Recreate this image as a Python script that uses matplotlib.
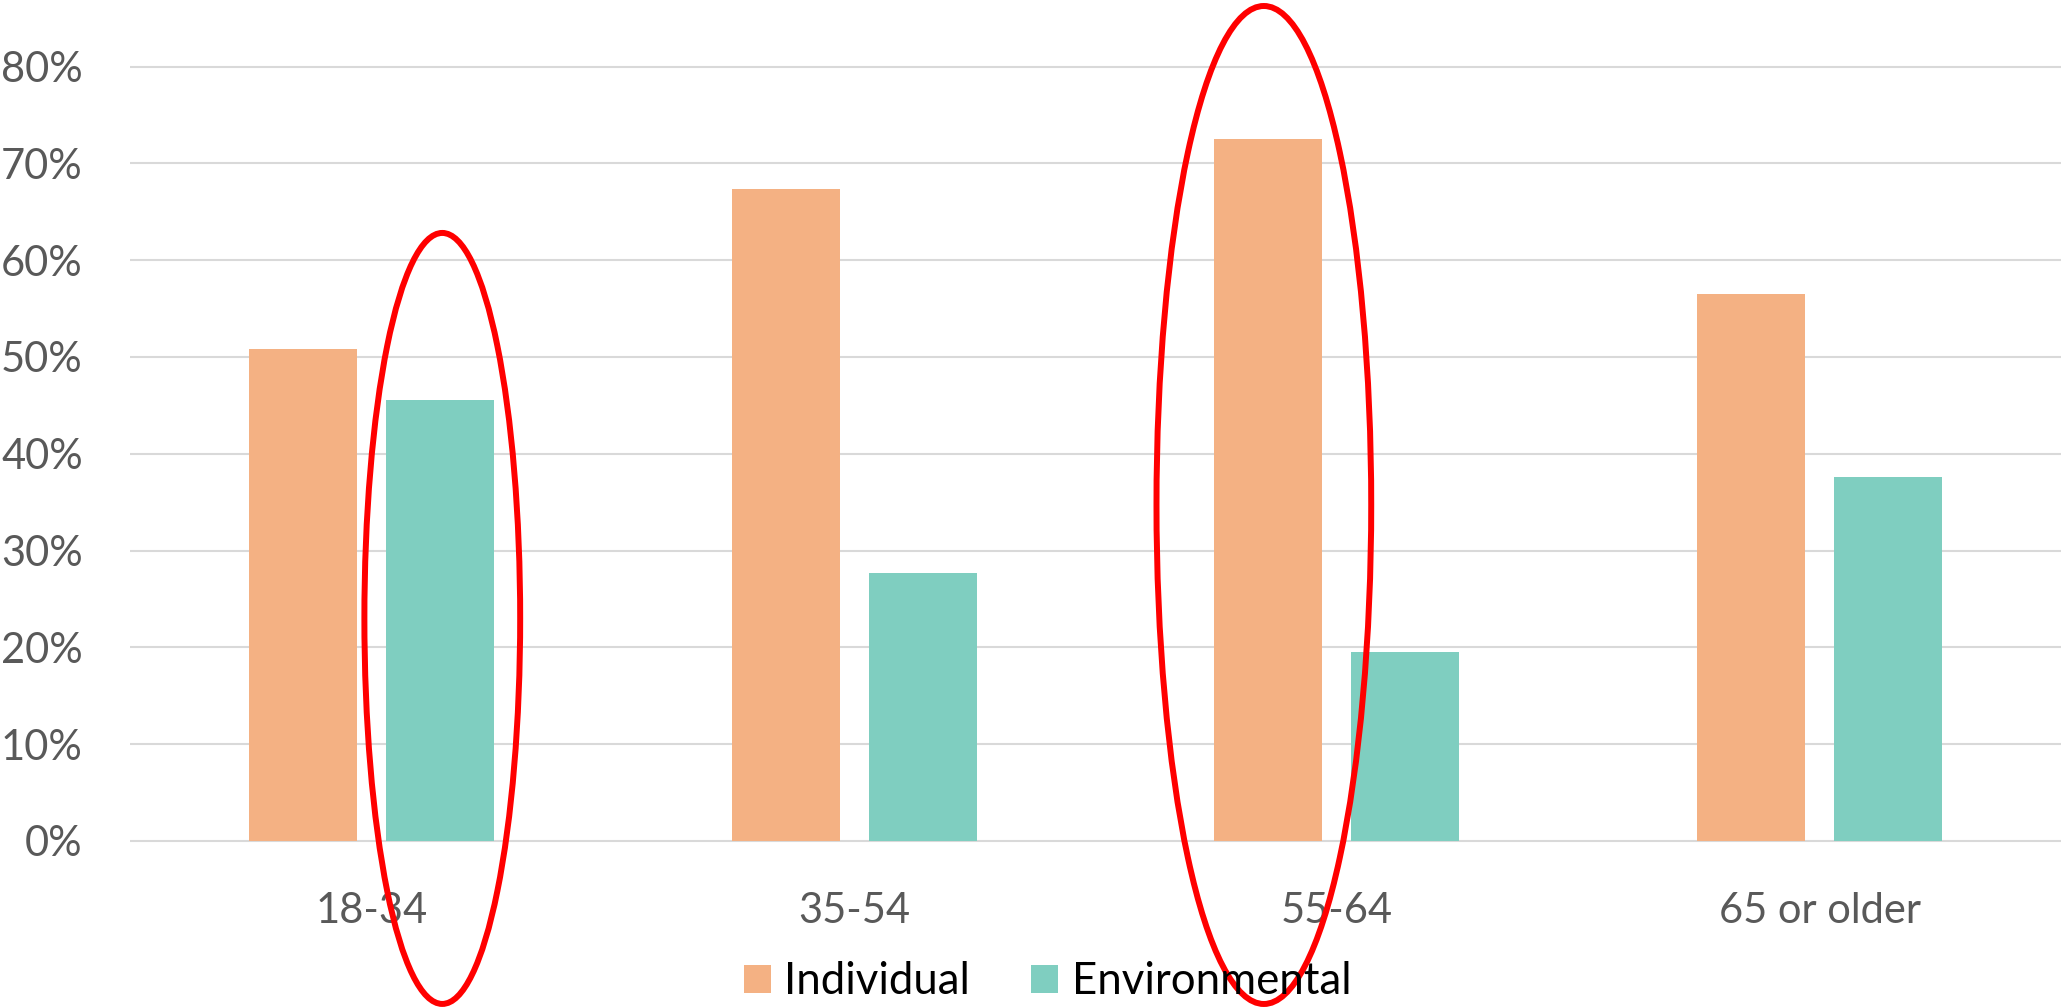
import matplotlib
matplotlib.use("Agg")
import matplotlib.pyplot as plt
from matplotlib.patches import Ellipse, Patch
import numpy as np

# Share of respondents by age group
categories = ["18-34", "35-54", "55-64", "65 or older"]
individual = [0.508, 0.674, 0.725, 0.565]
environmental = [0.456, 0.277, 0.195, 0.376]
series_names = ["Individual", "Environmental"]
y_ticks = [0.0, 0.1, 0.2, 0.3, 0.4, 0.5, 0.6, 0.7, 0.8]

# Highlighted bars: (category index, series index)
highlights = [(0, 1), (2, 0)]

colors = ["#F4B183", "#7FCEC0"]
tick_color = "#595959"
grid_color = "#D9D9D9"

plt.rcParams["font.family"] = ["Lato", "DejaVu Sans"]

fig = plt.figure(figsize=(20.61, 10.08), dpi=100)
ax = fig.add_axes([0.0631, 0.1609, 1.0 - 0.0631, 0.8391])

x = np.arange(len(categories))
width = 0.2237
offset = 0.1418
series = [individual, environmental]
offsets = [-offset, offset]

for vals, off, col, name in zip(series, offsets, colors, series_names):
    ax.bar(x + off, vals, width=width, color=col, label=name, zorder=3,
           linewidth=0)

ax.set_xlim(-0.5, len(categories) - 0.5)
ax.set_ylim(-0.005, 0.8688)
ax.set_yticks(y_ticks)
ax.set_yticklabels([f"{int(round(v * 100))}%" for v in y_ticks])
ax.set_xticks(x)
ax.set_xticklabels(categories)

ax.grid(axis="y", color=grid_color, linewidth=1.5, zorder=0)
ax.grid(axis="x", visible=False)
for s in ax.spines.values():
    s.set_visible(False)
ax.tick_params(axis="both", length=0, labelsize=30, labelcolor=tick_color)
ax.tick_params(axis="y", pad=34)
ax.tick_params(axis="x", pad=33)

# Red ellipses around the highlighted bars: (dx, width, height, y centre)
ellipse_shapes = [(0.005, 0.3227, 0.7965, 0.2299),
                  (-0.0095, 0.4448, 1.031, 0.3471)]
for (ci, si), (dx, ew, eh, ecy) in zip(highlights, ellipse_shapes):
    cx = x[ci] + offsets[si] + dx
    e = Ellipse((cx, ecy), ew, eh, fill=False, edgecolor="#FF0000",
                linewidth=4.3, zorder=5, clip_on=False)
    ax.add_patch(e)

handles = [Patch(facecolor=c, edgecolor="none") for c in colors]
leg = fig.legend(handles, series_names, loc="center",
                 bbox_to_anchor=(0.5083, 0.026), ncol=2, frameon=False,
                 fontsize=31.5, handlelength=0.62, handleheight=0.62,
                 handletextpad=0.3, columnspacing=1.4, borderpad=0)
for t in leg.get_texts():
    t.set_color("#000000")

fig.savefig("out.png", dpi=100, facecolor="white")
